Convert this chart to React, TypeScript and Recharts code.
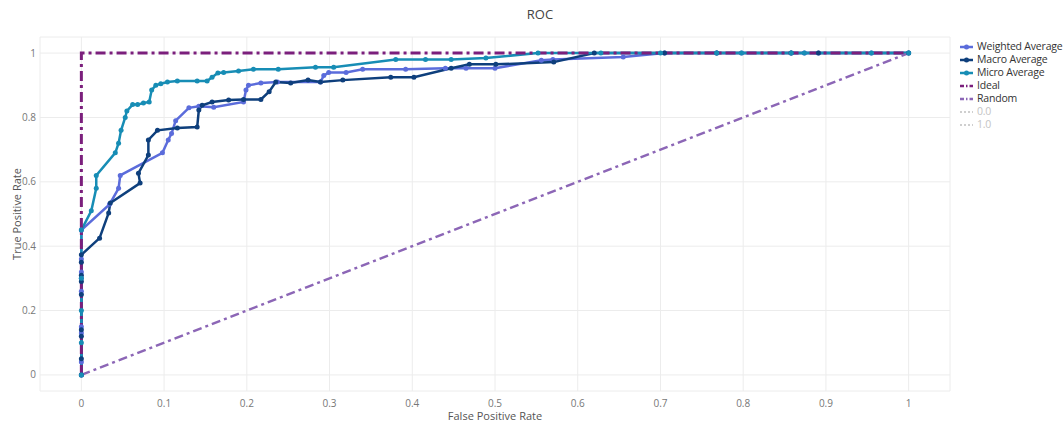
import React from 'react';
import { LineChart, Line, XAxis, YAxis, CartesianGrid } from 'recharts';

const W = 1064;
const H = 421;

// ROC points (fpr, tpr)
const weightedFpr = [0, 0, 0, 0, 0, 0, 0, 0, 0, 0.034, 0.045, 0.047, 0.098, 0.105, 0.109, 0.114, 0.13, 0.142, 0.16, 0.196, 0.199, 0.202, 0.217, 0.237, 0.289, 0.293, 0.299, 0.32, 0.34, 0.392, 0.44, 0.465, 0.5, 0.556, 0.57, 0.655, 0.705, 0.768, 0.798, 0.858, 0.874, 0.891, 0.955, 1];
const weightedTpr = [0, 0.04, 0.13, 0.15, 0.26, 0.3, 0.32, 0.36, 0.45, 0.53, 0.58, 0.62, 0.69, 0.73, 0.75, 0.79, 0.83, 0.835, 0.832, 0.848, 0.885, 0.9, 0.907, 0.91, 0.91, 0.93, 0.94, 0.94, 0.95, 0.95, 0.953, 0.953, 0.953, 0.978, 0.98, 0.988, 1, 1, 1, 1, 1, 1, 1, 1];

const macroFpr = [0, 0, 0, 0, 0, 0, 0, 0, 0, 0.022, 0.033, 0.035, 0.071, 0.069, 0.081, 0.081, 0.092, 0.116, 0.14, 0.142, 0.146, 0.158, 0.178, 0.196, 0.217, 0.227, 0.235, 0.253, 0.274, 0.289, 0.316, 0.374, 0.402, 0.447, 0.469, 0.501, 0.571, 0.62, 0.705, 0.768, 0.858, 0.891, 1];
const macroTpr = [0, 0.05, 0.12, 0.14, 0.25, 0.29, 0.31, 0.35, 0.373, 0.425, 0.503, 0.534, 0.596, 0.627, 0.683, 0.73, 0.76, 0.767, 0.77, 0.823, 0.838, 0.848, 0.854, 0.856, 0.856, 0.88, 0.91, 0.907, 0.916, 0.91, 0.916, 0.925, 0.925, 0.953, 0.965, 0.965, 0.972, 1, 1, 1, 1, 1, 1];

const microFpr = [0, 0, 0, 0, 0, 0.012, 0.018, 0.018, 0.041, 0.045, 0.048, 0.053, 0.055, 0.062, 0.068, 0.075, 0.082, 0.085, 0.09, 0.096, 0.104, 0.116, 0.14, 0.152, 0.158, 0.165, 0.172, 0.19, 0.208, 0.238, 0.283, 0.305, 0.38, 0.416, 0.447, 0.489, 0.552, 0.628, 0.7, 0.768, 0.798, 0.858, 0.874, 0.955, 1];
const microTpr = [0, 0.1, 0.2, 0.3, 0.45, 0.51, 0.58, 0.62, 0.69, 0.72, 0.76, 0.8, 0.82, 0.84, 0.84, 0.845, 0.848, 0.885, 0.9, 0.905, 0.91, 0.913, 0.913, 0.913, 0.925, 0.938, 0.94, 0.944, 0.95, 0.95, 0.956, 0.956, 0.98, 0.98, 0.98, 0.985, 1, 1, 1, 1, 1, 1, 1, 1, 1];

const idealFpr = [0, 0, 1];
const idealTpr = [0, 1, 1];
const randomFpr = [0, 1];
const randomTpr = [0, 1];

const xTicks = [0, 0.1, 0.2, 0.3, 0.4, 0.5, 0.6, 0.7, 0.8, 0.9, 1];
const yTicks = [0, 0.2, 0.4, 0.6, 0.8, 1];

const C = {
  weighted: '#5b6cdb',
  macro: '#0e3f7c',
  micro: '#178db5',
  ideal: '#7b1f7c',
  random: '#8c66b6',
  faint: '#cfcfcf'
};

const zip = (xs: number[], ys: number[]) => xs.map((x, i) => ({ x, y: ys[i] }));

const legendItems = [
  { name: 'Weighted Average', color: C.weighted, kind: 'marker' },
  { name: 'Macro Average', color: C.macro, kind: 'marker' },
  { name: 'Micro Average', color: C.micro, kind: 'marker' },
  { name: 'Ideal', color: C.ideal, kind: 'dashdot' },
  { name: 'Random', color: C.random, kind: 'dashdot' },
  { name: '0.0', color: C.faint, kind: 'dot' },
  { name: '1.0', color: C.faint, kind: 'dot' }
];

function LegendBox () {
  return (
    <div
      style={{
        position: 'absolute',
        left: 959,
        top: 40,
        fontSize: 10.5,
        letterSpacing: -0.2,
        lineHeight: '13px',
        whiteSpace: 'nowrap'
      }}
    >
      {legendItems.map(item => (
        <div key={item.name} style={{ display: 'flex', alignItems: 'center', height: 13 }}>
          <svg width={15} height={8} style={{ marginRight: 3 }}>
            <line
              x1={1}
              y1={4}
              x2={14}
              y2={4}
              stroke={item.color}
              strokeWidth={item.kind === 'dot' ? 2 : 2.5}
              strokeDasharray={item.kind === 'dashdot' ? '4,2,1.5,2' : item.kind === 'dot' ? '2,2' : undefined}
            />
            {item.kind === 'marker' && <circle cx={7.5} cy={4} r={2.5} fill={item.color} />}
          </svg>
          <span style={{ color: item.kind === 'dot' ? '#c4c4c4' : '#333' }}>{item.name}</span>
        </div>
      ))}
    </div>
  );
}

const tickStyle = { fontSize: 10, fill: '#777' };

export default function App () {
  const curve = (key: string, name: string, color: string, xs: number[], ys: number[]) => (
    <Line
      key={key}
      data={zip(xs, ys)}
      dataKey="y"
      name={name}
      stroke={color}
      strokeWidth={2.5}
      dot={{ r: 2.5, fill: color, stroke: color, strokeWidth: 0 }}
      activeDot={false}
      isAnimationActive={false}
    />
  );

  return (
    <div
      style={{
        position: 'absolute',
        left: 0,
        top: 0,
        width: W,
        height: H,
        background: '#fff',
        fontFamily: '"Open Sans", "Noto Sans", sans-serif'
      }}
    >
      <div
        style={{
          position: 'absolute',
          top: 5,
          left: 0,
          width: W,
          textAlign: 'center',
          fontSize: 13,
          color: '#444',
          paddingLeft: 16,
          boxSizing: 'border-box'
        }}
      >
        ROC
      </div>
      <LineChart width={W} height={H} margin={{ top: 37, right: 114, bottom: 0, left: 0 }}>
        <CartesianGrid stroke="#ececec" strokeWidth={1} />
        <XAxis
          type="number"
          dataKey="x"
          domain={[-0.05, 1.05]}
          ticks={xTicks}
          tickFormatter={v => String(v)}
          axisLine={false}
          tickLine={false}
          tickSize={0}
          tickMargin={9}
          height={30}
          tick={tickStyle}
          allowDuplicatedCategory={false}
          label={{ value: 'False Positive Rate', position: 'insideBottom', offset: 1, fontSize: 11, fill: '#555' }}
        />
        <YAxis
          type="number"
          domain={[-0.05, 1.05]}
          ticks={yTicks}
          tickFormatter={v => String(v)}
          axisLine={false}
          tickLine={false}
          tickSize={0}
          tickMargin={4}
          width={40}
          tick={tickStyle}
          label={{ value: 'True Positive Rate', angle: -90, position: 'insideLeft', offset: 17, fontSize: 11, fill: '#555', style: { textAnchor: 'middle' } }}
        />
        {curve('w', 'Weighted Average', C.weighted, weightedFpr, weightedTpr)}
        {curve('ma', 'Macro Average', C.macro, macroFpr, macroTpr)}
        {curve('mi', 'Micro Average', C.micro, microFpr, microTpr)}
        <Line
          data={zip(idealFpr, idealTpr)}
          dataKey="y"
          name="Ideal"
          stroke={C.ideal}
          strokeWidth={3}
          strokeDasharray="10,4,3,4"
          dot={false}
          activeDot={false}
          isAnimationActive={false}
        />
        <Line
          data={zip(randomFpr, randomTpr)}
          dataKey="y"
          name="Random"
          stroke={C.random}
          strokeWidth={2.5}
          strokeDasharray="9,4,3,4"
          dot={false}
          activeDot={false}
          isAnimationActive={false}
        />
      </LineChart>
      <LegendBox />
    </div>
  );
}
